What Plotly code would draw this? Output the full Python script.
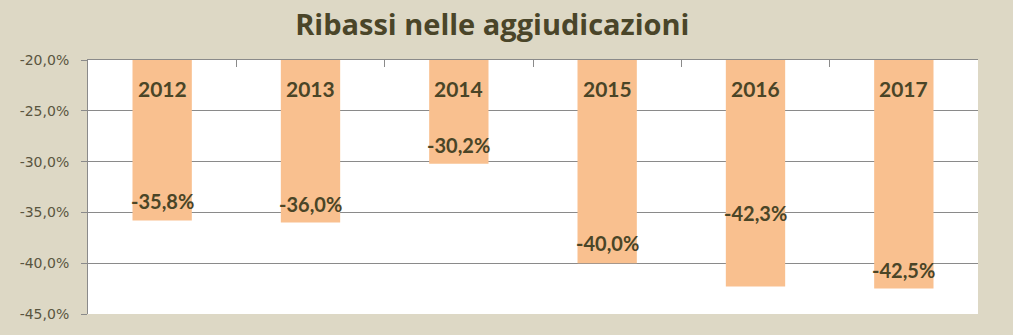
import plotly.graph_objects as go

years = ["2012", "2013", "2014", "2015", "2016", "2017"]
values = [-35.8, -36.0, -30.2, -40.0, -42.3, -42.5]
value_labels = ["-35,8%", "-36,0%", "-30,2%", "-40,0%", "-42,3%", "-42,5%"]
axis_base = -20.0
tick_vals = [-20, -25, -30, -35, -40, -45]
tick_text = ["-20,0%", "-25,0%", "-30,0%", "-35,0%", "-40,0%", "-45,0%"]

# pixel offset of each value label above the bar end (2016's label was moved up)
label_shift = [20, 19, 19, 20, 74, 19]

BG = "#DDD8C5"
BAR = "#F9C08F"
TXT = "#4A4527"
GRID = "#8A8A8A"

fig = go.Figure()
fig.add_trace(go.Bar(
    x=years,
    y=[v - axis_base for v in values],
    base=axis_base,
    marker=dict(color=BAR, line=dict(width=0)),
    width=0.4,
    hoverinfo="skip",
))

# on a category axis annotations use the category index
for i, (yr, v, lab) in enumerate(zip(years, values, value_labels)):
    fig.add_annotation(x=i, y=axis_base, text="<b>%s</b>" % yr, showarrow=False,
                       yshift=-28, font=dict(family="Lato", size=21, color=TXT))
    fig.add_annotation(x=i, y=v, text="<b>%s</b>" % lab, showarrow=False,
                       yshift=label_shift[i], font=dict(family="Lato", size=20, color=TXT))

fig.update_layout(
    width=1013, height=335,
    margin=dict(l=88, r=35, t=60, b=21),
    paper_bgcolor=BG,
    plot_bgcolor="white",
    showlegend=False,
    title=dict(text="<b>Ribassi nelle aggiudicazioni</b>", x=0.486, xanchor="center",
               xref="container", y=0.955, yanchor="top", yref="container",
               font=dict(family="Open Sans", size=29, color="#4A4529")),
    xaxis=dict(type="category", side="top", showticklabels=False, showline=True,
               linecolor=GRID, linewidth=1, range=[-0.5, len(years) - 0.5],
               ticks="inside", ticklen=7, tickcolor=GRID, tickson="boundaries",
               showgrid=False, fixedrange=True),
    yaxis=dict(range=[-45, -20], tickvals=tick_vals, ticktext=tick_text,
               showgrid=True, gridcolor=GRID, gridwidth=1, zeroline=False,
               showline=True, linecolor=GRID, linewidth=1, ticks="outside", ticklen=6,
               tickcolor=GRID, ticklabelstandoff=9,
               tickfont=dict(family="DejaVu Sans", size=14, color="#5A5540"),
               fixedrange=True),
)

fig.write_html("out.html")
